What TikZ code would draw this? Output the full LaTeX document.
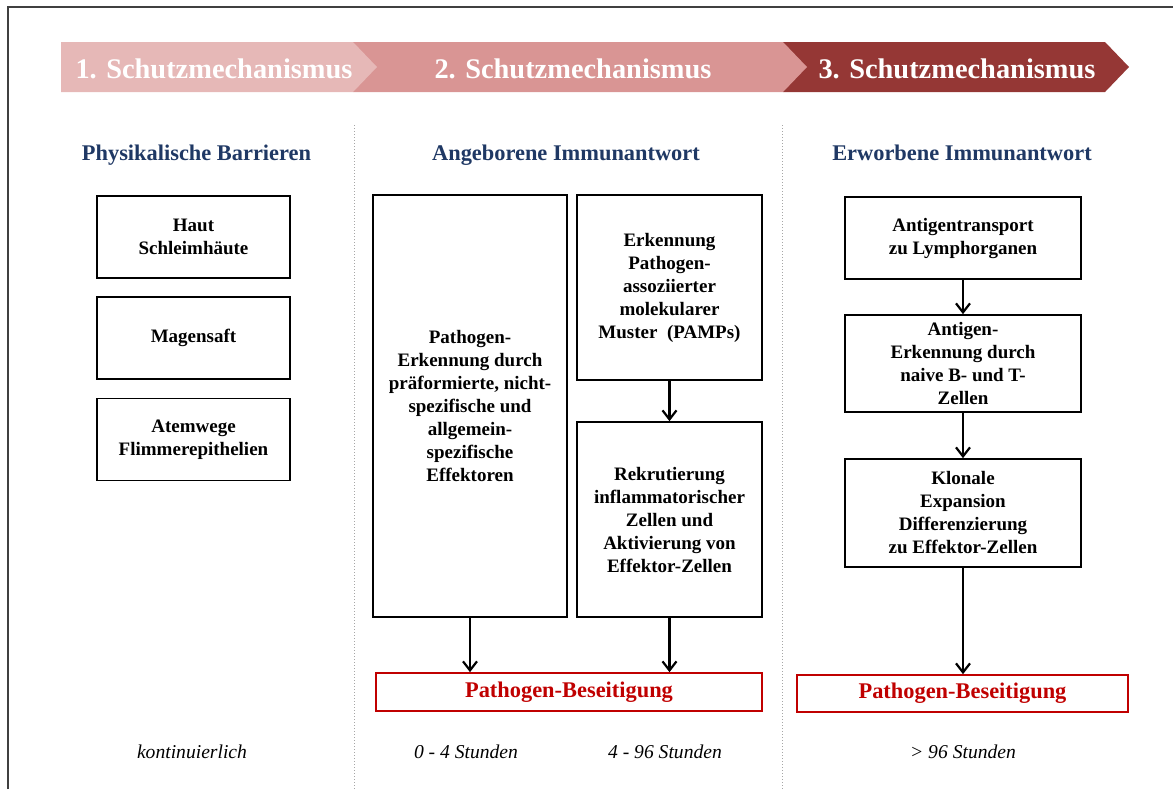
\documentclass[tikz,border=0pt]{standalone}
\usepackage{fontspec}
\setmainfont{Liberation Serif}
\usetikzlibrary{arrows.meta}

\definecolor{schutzhell}{HTML}{E6B8B7}
\definecolor{schutzmittel}{HTML}{D99594}
\definecolor{schutzdunkel}{HTML}{953735}
\definecolor{titelblau}{HTML}{1F3864}
\definecolor{beseitrot}{HTML}{C00000}

\tikzset{
  kasten/.style={draw=black,line width=0.85pt,align=center,inner sep=0pt,
    font=\fontsize{9.5}{11.5}\selectfont\bfseries},
  rotkasten/.style={draw=beseitrot,line width=0.85pt,inner sep=0pt,
    text=beseitrot,font=\fontsize{11.2}{13}\selectfont\bfseries},
  spaltentitel/.style={anchor=base,text=titelblau,font=\fontsize{11.2}{13}\selectfont\bfseries},
  bannertext/.style={anchor=base,text=white,font=\fontsize{14.2}{17}\selectfont\bfseries},
  zeit/.style={anchor=base,font=\fontsize{9.8}{12}\selectfont\itshape},
  trenner/.style={draw=black!35,line width=0.5pt,densely dotted},
  pfeil/.style={-{Straight Barb[length=4.5pt,width=7pt]},line width=1.1pt}
}

\begin{document}
\begin{tikzpicture}[x=0.5pt,y=-0.5pt]
  \useasboundingbox (0,0) rectangle (1173,789);
  \draw[black!75,line width=0.8pt] (8,789) -- (8,7) -- (1173,7);

  % Schutzmechanismen
  \fill[schutzdunkel] (783,42) -- (1105,42) -- (1129,67) -- (1105,92) -- (783,92) -- cycle;
  \fill[schutzmittel] (353,42) -- (783,42) -- (807,67) -- (783,92) -- (353,92) -- cycle;
  \fill[schutzhell]   (61,42) -- (353,42) -- (377,67) -- (353,92) -- (61,92) -- cycle;
  \node[bannertext] (schutzA) at (214,78) {1. Schutzmechanismus};
  \node[bannertext] (schutzB) at (573,78) {2. Schutzmechanismus};
  \node[bannertext] (schutzC) at (957,78) {3. Schutzmechanismus};

  % Trennlinien
  \draw[trenner] (354,125) -- (354,789);
  \draw[trenner] (782,125) -- (782,789);

  % Spaltentitel
  \node[spaltentitel] (titelA) at (196.5,160) {Physikalische Barrieren};
  \node[spaltentitel] (titelB) at (566,160) {Angeborene Immunantwort};
  \node[spaltentitel] (titelC) at (962,160) {Erworbene Immunantwort};

  % Barrieren
  \node[kasten,minimum width=96.5pt,minimum height=41pt] (haut)  at (193.5,237)   {Haut\\Schleimhäute};
  \node[kasten,minimum width=96.5pt,minimum height=41pt] (magen) at (193.5,338)   {Magensaft};
  \node[kasten,minimum width=96.5pt,minimum height=41pt] (atem)  at (193.5,439.5) {Atemwege\\Flimmerepithelien};

  % angeboren
  \node[kasten,minimum width=97pt,minimum height=211pt] (praef) at (470,406)
    {Pathogen-\\Erkennung durch\\präformierte, nicht-\\spezifische und\\allgemein-\\spezifische\\Effektoren};
  \node[kasten,minimum width=92.5pt,minimum height=92.5pt] (pamp) at (669.5,287.5)
    {Erkennung\\Pathogen-\\assoziierter\\molekularer\\Muster~~(PAMPs)};
  \node[kasten,minimum width=92.5pt,minimum height=97.5pt] (rekrut) at (669.5,519.5)
    {Rekrutierung\\inflammatorischer\\Zellen und\\Aktivierung von\\Effektor-Zellen};
  \node[rotkasten,minimum width=193pt,minimum height=19pt] (elimA) at (569,692) {Pathogen-Beseitigung};

  % erworben
  \node[kasten,minimum width=118pt,minimum height=41pt] (transport) at (963,238)
    {Antigentransport\\zu Lymphorganen};
  \node[kasten,minimum width=118pt,minimum height=48.5pt] (erkenn) at (963,363.5)
    {Antigen-\\Erkennung durch\\naive B- und T-\\Zellen};
  \node[kasten,minimum width=118pt,minimum height=54pt] (klonal) at (963,513)
    {Klonale\\Expansion\\Differenzierung\\zu Effektor-Zellen};
  \node[rotkasten,minimum width=165.5pt,minimum height=18.5pt] (elimB) at (962.5,693.5) {Pathogen-Beseitigung};

  % Pfeile
  \draw[pfeil] (pamp) -- (rekrut);
  \draw[pfeil] (praef.south) -- (praef.south |- elimA.north);
  \draw[pfeil] (rekrut.south) -- (rekrut.south |- elimA.north);
  \draw[pfeil] (transport) -- (erkenn);
  \draw[pfeil] (erkenn) -- (klonal);
  \draw[pfeil] (klonal.south) -- (klonal.south |- elimB.north);

  % Zeiten
  \node[zeit] (tKont) at (192,758) {kontinuierlich};
  \node[zeit] (tFrueh) at (466,758) {0 - 4 Stunden};
  \node[zeit] (tSpaet) at (665,758) {4 - 96 Stunden};
  \node[zeit] (tErw) at (963,758) {> 96 Stunden};
\end{tikzpicture}
\end{document}
